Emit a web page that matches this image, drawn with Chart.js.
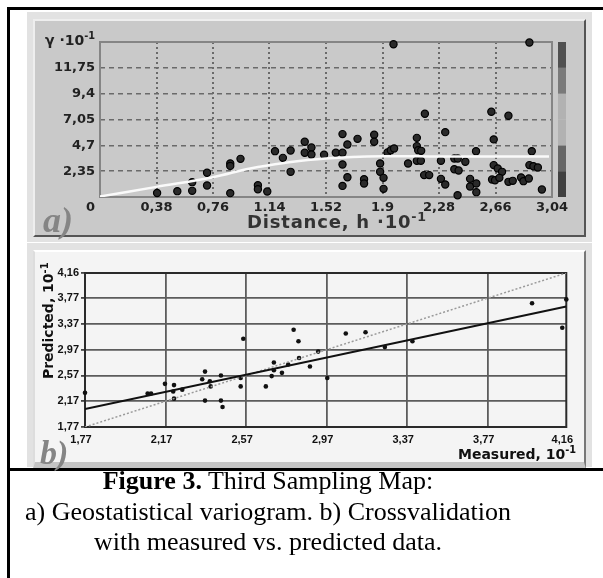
<!DOCTYPE html>
<html>
<head>
<meta charset="utf-8">
<script src="https://cdn.jsdelivr.net/npm/chart.js@4/dist/chart.umd.min.js"></script>
<style>
  body { margin: 0; width: 603px; height: 578px; overflow: hidden; position: relative; background: #fff; font-family: "DejaVu Sans", sans-serif; }
  .abs { position: absolute; }
  .frame { left: 7px; top: 7px; width: 620px; height: 620px; border-top: 3px solid #000; border-left: 3px solid #000; }
  .sep { left: 7px; top: 468px; width: 620px; height: 3px; background: #000; }
  .panelOut { background: #e2e2e2; }
  .panelA { left: 33px; top: 19px; width: 549px; height: 214px; background: #c9c9c9; border-top: 2px solid #eee; border-left: 2px solid #eee; border-right: 2px solid #555; border-bottom: 2px solid #555; }
  .panelB { left: 33px; top: 250px; width: 549px; height: 210px; background: #f4f4f4; border-top: 2px solid #fff; border-left: 2px solid #ddd; border-right: 2px solid #777; border-bottom: 7px solid #c4c4c4; }
  .lbl { font-weight: bold; color: #222; white-space: nowrap; }
  .tag { font-family: "Liberation Serif", serif; font-style: italic; font-weight: bold; font-size: 36px; color: #858585; }
  sup { font-size: 70%; }
  .caption { left: 6px; top: 466px; width: 524px; text-align: center; font-family: "Liberation Serif", serif; font-size: 26px; line-height: 30.5px; color: #000; }
  canvas { position: absolute; }
</style>
</head>
<body>
<div class="abs frame"></div>
<div class="abs panelOut" style="left:27px;top:12px;width:565px;height:230px"></div>
<div class="abs panelA"></div>
<div class="abs panelOut" style="left:27px;top:243px;width:565px;height:224px"></div>
<div class="abs panelB"></div>
<div class="abs sep"></div>

<canvas id="chartA" width="560" height="225" style="left:30px;top:12px"></canvas>
<canvas id="chartB" width="548" height="215" style="left:35px;top:252px"></canvas>

<div class="abs lbl" style="left:45px;top:30px;font-size:14px">γ ·10<sup>-1</sup></div>
<div class="abs lbl" style="left:86px;top:199px;font-size:13px">0</div>
<div class="abs lbl" style="left:247px;top:209px;font-size:18px;letter-spacing:0.8px;color:#333">Distance, h ·10<sup>-1</sup></div>
<div class="abs tag" style="left:43px;top:199px">a)</div>

<div class="abs lbl" style="left:-15px;top:312px;width:125px;text-align:center;font-size:14px;color:#111;transform:rotate(-90deg)">Predicted, 10<sup>-1</sup></div>
<div class="abs lbl" style="left:458px;top:444px;font-size:14px;color:#111">Measured, 10<sup>-1</sup></div>
<div class="abs tag" style="left:40px;top:434px;font-size:34px">b)</div>

<div class="abs caption"><b>Figure 3.</b> Third Sampling Map:<br>a) Geostatistical variogram. b) Crossvalidation<br>with measured vs. predicted data.</div>

<script>
// a) variogram: experimental points
const distA = [0.384, 0.52, 0.62, 0.62, 0.72, 0.72, 0.876, 0.876, 0.876, 0.945,
  1.062, 1.062, 1.125, 1.177, 1.23, 1.282, 1.282, 1.377, 1.377, 1.422,
  1.422, 1.507, 1.586, 1.631, 1.631, 1.664, 1.732, 1.631, 1.664, 1.631,
  1.776, 1.776, 1.844, 1.844, 1.884, 1.884, 1.907, 1.907, 1.934, 1.956,
  1.978, 1.974, 2.072, 2.185, 2.131, 2.131, 2.14, 2.16, 2.131, 2.158,
  2.18, 2.214, 2.322, 2.293, 2.293, 2.322, 2.383, 2.406, 2.457, 2.383,
  2.412, 2.405, 2.489, 2.489, 2.531, 2.531, 2.529, 2.632, 2.747, 2.648,
  2.648, 2.675, 2.704, 2.637, 2.657, 2.686, 2.747, 2.776, 2.832, 2.848,
  2.884, 2.888, 2.904, 2.888, 2.915, 2.945, 2.972];
const gammaA = [0.37, 0.53, 0.56, 1.35, 1.05, 2.2, 0.35, 3.05, 2.83, 3.47,
  1.07, 0.71, 0.5, 4.17, 3.56, 4.23, 2.29, 5.02, 4.02, 4.5,
  3.87, 3.84, 4.02, 4.02, 5.72, 4.78, 5.29, 2.96, 1.8, 1.01,
  1.62, 1.23, 5.66, 5.02, 3.05, 2.29, 1.74, 0.74, 4.05, 4.26,
  4.42, 13.89, 3.05, 7.57, 5.38, 4.63, 4.26, 4.2, 3.29, 3.29,
  1.99, 1.99, 5.9, 3.29, 1.65, 1.14, 3.5, 3.5, 3.2, 2.53,
  2.41, 0.16, 1.65, 0.96, 1.23, 0.44, 4.17, 7.75, 7.39, 5.24,
  2.9, 2.6, 2.29, 1.59, 1.53, 1.74, 1.38, 1.47, 1.78, 1.44,
  1.68, 14.05, 4.17, 2.9, 2.8, 2.69, 0.68];
// a) fitted model curve
const modelDist = [0, 0.38, 0.76, 1.01, 1.24, 1.52, 1.9, 2.28, 2.66, 3.02];
const modelGamma = [0.05, 0.92, 1.8, 2.6, 3.1, 3.5, 3.7, 3.68, 3.68, 3.68];
const xTicksA = [0, 0.38, 0.76, 1.14, 1.52, 1.9, 2.28, 2.66, 3.04];
const xLabelsA = ['', '0,38', '0,76', '1.14', '1.52', '1.9', '2,28', '2,66', '3,04'];
const yTicksA = [0, 2.35, 4.7, 7.05, 9.4, 11.75, 14.1];
const yLabelsA = ['', '2,35', '4,7', '7,05', '9,4', '11,75', ''];

// b) crossvalidation
const measB = [1.77, 2.081, 2.098, 2.167, 2.212, 2.208, 2.212, 2.253, 2.352, 2.366,
  2.39, 2.394, 2.366, 2.445, 2.445, 2.453, 2.543, 2.543, 2.556, 2.668,
  2.697, 2.708, 2.708, 2.748, 2.779, 2.806, 2.83, 2.833, 2.887, 2.928,
  2.973, 3.065, 3.163, 3.259, 3.396, 3.99, 4.16, 4.14];
const predB = [2.3, 2.29, 2.29, 2.44, 2.42, 2.32, 2.21, 2.35, 2.51, 2.63,
  2.48, 2.4, 2.18, 2.57, 2.18, 2.08, 2.53, 2.4, 3.14, 2.4,
  2.56, 2.65, 2.77, 2.61, 2.74, 3.28, 3.1, 2.84, 2.71, 2.94,
  2.53, 3.22, 3.24, 3.01, 3.1, 3.69, 3.75, 3.31];
const fitX = [1.77, 4.16];
const fitY = [2.05, 3.64];
const oneX = [1.77, 4.16];
const oneY = [1.77, 4.16];
const ticksB = [1.77, 2.17, 2.57, 2.97, 3.37, 3.77, 4.16];
const labelsB = ['1,77', '2,17', '2,57', '2,97', '3,37', '3,77', '4,16'];

const pts = (xs, ys) => xs.map((x, i) => ({ x: x, y: ys[i] }));
const setTicks = list => axis => { axis.ticks = list.map(v => ({ value: v })); };
const inner = (n, c) => ctx => (ctx.index === 0 || ctx.index === n - 1) ? 'rgba(0,0,0,0)' : c;

// frame round the plot area, plus the grey scale bar of panel a
const framePlugin = {
  id: 'frame',
  beforeDatasetsDraw(chart, args, opts) {
    const a = chart.chartArea, ctx = chart.ctx;
    ctx.save();
    if (opts.bar) {
      const y = chart.scales.y;
      const shades = ['#404040', '#666', '#b2b2b2', '#b2b2b2', '#7a7a7a', '#505050'];
      for (let i = 0; i < yTicksA.length - 1; i++) {
        const top = y.getPixelForValue(yTicksA[i + 1]);
        const bot = y.getPixelForValue(yTicksA[i]);
        ctx.fillStyle = shades[i];
        ctx.fillRect(a.right + 6, top, 8, bot - top);
      }
    }
    ctx.strokeStyle = opts.color;
    ctx.lineWidth = opts.width;
    ctx.strokeRect(a.left, a.top, a.right - a.left, a.bottom - a.top);
    ctx.restore();
  }
};

const fontA = { family: 'DejaVu Sans', size: 13, weight: 'bold' };
const fontB = { family: '"Liberation Sans Narrow", "Liberation Sans", sans-serif', size: 11, weight: 'bold' };

new Chart(document.getElementById('chartA'), {
  type: 'scatter',
  data: {
    datasets: [
      { type: 'line', data: pts(modelDist, modelGamma), borderColor: '#fafafa', borderWidth: 2.5,
        pointRadius: 0, tension: 0.4, order: 0 },
      { data: pts(distA, gammaA), pointRadius: 3.6, backgroundColor: '#2a2a2a', borderColor: '#000',
        borderWidth: 1.2, order: 1, clip: 8 }
    ]
  },
  options: {
    responsive: false,
    animation: false,
    layout: { padding: { top: 30, right: 38, left: 0, bottom: 0 } },
    plugins: { legend: { display: false }, tooltip: { enabled: false }, frame: { color: '#858585', width: 2, bar: true } },
    scales: {
      x: {
        type: 'linear', min: 0, max: 3.04,
        afterBuildTicks: setTicks(xTicksA),
        afterFit: axis => { axis.height = 40; },
        ticks: { callback: (v, i) => xLabelsA[i], font: fontA, color: '#222', padding: 3, maxRotation: 0, autoSkip: false },
        grid: { color: inner(xTicksA.length, '#6a6a6a'), lineWidth: 2, drawTicks: false },
        border: { display: false, dash: [2, 3] }
      },
      y: {
        min: 0, max: 14.1,
        afterBuildTicks: setTicks(yTicksA),
        afterFit: axis => { axis.width = 70; },
        ticks: { callback: (v, i) => yLabelsA[i], font: fontA, color: '#222', padding: 5, autoSkip: false },
        grid: { color: inner(yTicksA.length, '#6a6a6a'), lineWidth: 1.5, drawTicks: false },
        border: { display: false, dash: [5, 4] }
      }
    }
  },
  plugins: [framePlugin]
});

new Chart(document.getElementById('chartB'), {
  type: 'scatter',
  data: {
    datasets: [
      { type: 'line', data: pts(fitX, fitY), borderColor: '#111', borderWidth: 2, pointRadius: 0, order: 0 },
      { type: 'line', data: pts(oneX, oneY), borderColor: '#9a9a9a', borderWidth: 1.5, borderDash: [2, 2], pointRadius: 0, order: 1 },
      { data: pts(measB, predB), pointRadius: 2.3, backgroundColor: '#111', borderWidth: 0, order: 2, clip: 6 }
    ]
  },
  options: {
    responsive: false,
    animation: false,
    layout: { padding: { top: 21, right: 14, left: 0, bottom: 0 } },
    plugins: { legend: { display: false }, tooltip: { enabled: false }, frame: { color: '#2a2a2a', width: 2, bar: false } },
    scales: {
      x: {
        type: 'linear', min: 1.77, max: 4.16,
        afterBuildTicks: setTicks(ticksB),
        afterFit: axis => { axis.height = 40; },
        ticks: { callback: (v, i) => labelsB[i], font: fontB, color: '#111', padding: 6, labelOffset: -4, maxRotation: 0, autoSkip: false },
        grid: { color: inner(ticksB.length, '#5c5c5c'), lineWidth: 1.8, drawTicks: false },
        border: { display: false }
      },
      y: {
        min: 1.77, max: 4.16,
        afterBuildTicks: setTicks(ticksB),
        afterFit: axis => { axis.width = 50; },
        ticks: { callback: (v, i) => labelsB[i], font: fontB, color: '#111', padding: 2, autoSkip: false },
        grid: { color: inner(ticksB.length, '#5c5c5c'), lineWidth: 1.8, drawTicks: true, tickLength: 4, tickColor: '#444' },
        border: { display: false }
      }
    }
  },
  plugins: [framePlugin]
});
</script>
</body>
</html>
